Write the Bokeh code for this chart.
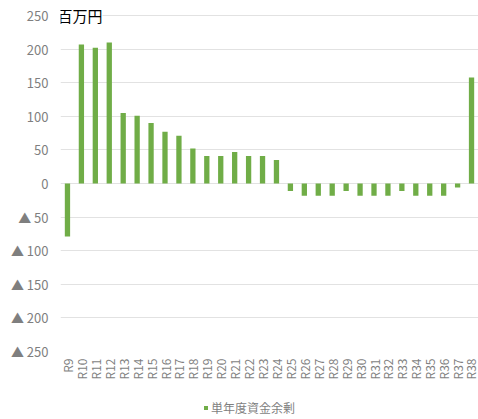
from bokeh.plotting import figure
from bokeh.layouts import column
from bokeh.models import (ColumnDataSource, FixedTicker, CustomJSTickFormatter, Label,
                          Legend, LegendItem, Range1d)
from bokeh.embed import file_html
from bokeh.resources import INLINE
import math

categories = ["R9", "R10", "R11", "R12", "R13", "R14", "R15", "R16", "R17", "R18",
              "R19", "R20", "R21", "R22", "R23", "R24", "R25", "R26", "R27", "R28",
              "R29", "R30", "R31", "R32", "R33", "R34", "R35", "R36", "R37", "R38"]
surplus = [-79, 207, 202, 210, 105, 101, 90, 77, 71, 52,
           41, 41, 47, 41, 41, 35, -11, -18, -18, -18,
           -11, -18, -18, -18, -11, -18, -18, -18, -6, 158]
y_ticks = [-250, -200, -150, -100, -50, 0, 50, 100, 150, 200, 250]
series_name = "単年度資金余剰"
unit_label = "百万円"

FONT = "Noto Sans CJK JP"
GRAY = "#7f7f7f"
GREEN = "#70AD47"

src = ColumnDataSource(dict(cat=categories, val=surplus))

p = figure(x_range=categories, y_range=(-250, 262), width=478, height=397,
           output_backend="svg", toolbar_location=None,
           min_border_left=60, min_border_right=0, min_border_top=7, min_border_bottom=46)
p.x_range.range_padding = 0
p.outline_line_color = None
p.background_fill_color = "white"

r = p.vbar(x="cat", top="val", bottom=0, width=0.38, source=src,
           fill_color=GREEN, line_color=None)

p.xgrid.grid_line_color = None
p.ygrid.grid_line_color = "#e2e2e2"
p.ygrid.ticker = FixedTicker(ticks=y_ticks)

p.yaxis.ticker = FixedTicker(ticks=y_ticks)
p.yaxis.formatter = CustomJSTickFormatter(
    code="return tick < 0 ? '\u25b2 ' + Math.abs(tick) : String(tick);")
for ax in (p.xaxis, p.yaxis):
    ax.axis_line_color = None
    ax.major_tick_line_color = None
    ax.minor_tick_line_color = None
    ax.major_label_text_color = GRAY
    ax.major_label_text_font = FONT
p.yaxis.major_label_text_font_size = "13px"
p.yaxis.major_label_standoff = 6
p.xaxis.major_label_text_font_size = "12px"
p.xaxis.major_label_orientation = math.pi / 2
p.xaxis.major_label_standoff = 1

lbl = Label(x=0, y=250, x_offset=-3, text=unit_label, text_font=FONT,
            text_font_size="15px", text_color="#000000", text_baseline="middle",
            background_fill_color="white")
p.add_layout(lbl)

# legend strip below the chart
p2 = figure(width=478, height=22, output_backend="svg", toolbar_location=None,
            x_range=Range1d(0, 1), y_range=Range1d(0, 1),
            x_axis_type=None, y_axis_type=None,
            min_border_left=0, min_border_right=0, min_border_top=0, min_border_bottom=0)
p2.outline_line_color = None
p2.xgrid.grid_line_color = None
p2.ygrid.grid_line_color = None
r2 = p2.vbar(x=[5], top=[1], width=0.1, fill_color=GREEN, line_color=None)
legend = Legend(items=[LegendItem(label=series_name, renderers=[r2])],
                orientation="horizontal", location=(143, 3),
                glyph_width=5, glyph_height=5, label_text_font=FONT,
                label_text_font_size="12px", label_text_color=GRAY,
                border_line_color=None, background_fill_alpha=0,
                padding=0, margin=0, label_standoff=3)
p2.add_layout(legend)

open("out.html", "w").write(file_html(column(p, p2, spacing=0), INLINE))
